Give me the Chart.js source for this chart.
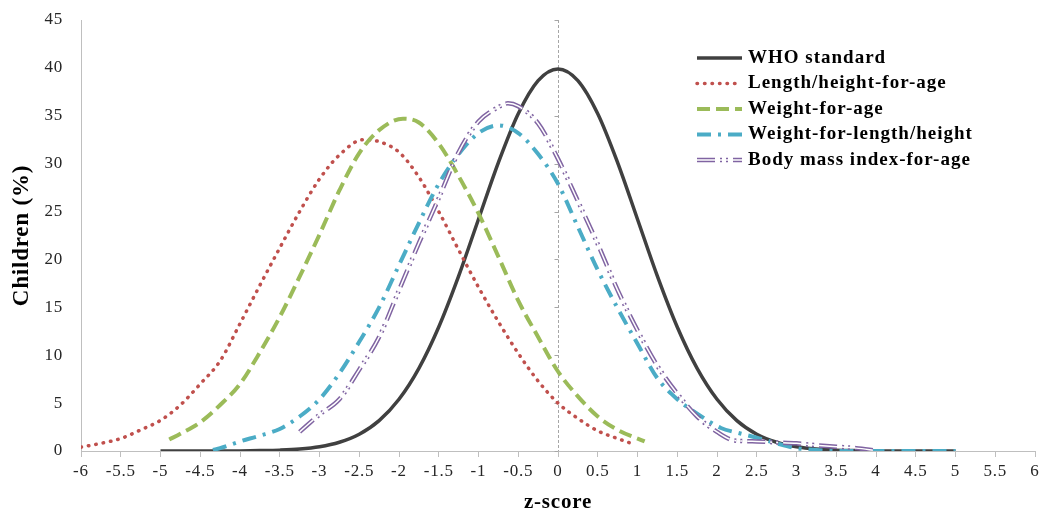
<!DOCTYPE html>
<html>
<head>
<meta charset="utf-8">
<script src="https://cdn.jsdelivr.net/npm/chart.js@4.4.1/dist/chart.umd.min.js"></script>
<style>
  body { margin: 0; background: #fff; }
  #chart1 { display: block; }
</style>
</head>
<body>
<canvas id="chart1" width="1042" height="513"></canvas>
<script>
// values (z-score -> % of children)
const whoZ = [-5, -4.75, -4.5, -4.25, -4, -3.75, -3.5, -3.25, -3, -2.75, -2.5, -2.25, -2, -1.75, -1.5, -1.25, -1, -0.75, -0.5, -0.25,
  0, 0.25, 0.5, 0.75, 1, 1.25, 1.5, 1.75, 2, 2.25, 2.5, 2.75, 3, 3.25, 3.5, 3.75, 4, 4.25, 4.5, 4.75, 5];
const whoY = [0, 0, 0, 0, 0.01, 0.04, 0.09, 0.2, 0.44, 0.91, 1.75, 3.17, 5.4, 8.63, 12.95, 18.26, 24.2, 30.11, 35.21, 38.67,
  39.89, 38.67, 35.21, 30.11, 24.2, 18.26, 12.95, 8.63, 5.4, 3.17, 1.75, 0.91, 0.44, 0.2, 0.09, 0.04, 0.01, 0, 0, 0, 0];

const lhaZ = [-6, -5.75, -5.5, -5.25, -5, -4.75, -4.5, -4.25, -4, -3.75, -3.5, -3.25, -3, -2.75, -2.45, -2.25, -2, -1.75, -1.5, -1.25,
  -1, -0.75, -0.5, -0.25, 0, 0.25, 0.5, 0.75, 0.92];
const lhaY = [0.4, 0.8, 1.3, 2.2, 3.2, 4.8, 7.0, 9.4, 13.3, 17.3, 21.2, 25.0, 28.4, 30.9, 32.5, 32.3, 31.2, 28.6, 25.0, 21.0,
  17.1, 13.5, 10.2, 7.3, 5.0, 3.4, 2.1, 1.3, 0.8];

const wfaZ = [-4.89, -4.75, -4.5, -4.25, -4, -3.75, -3.5, -3.25, -3, -2.75, -2.5, -2.25, -1.95, -1.75, -1.5, -1.25, -1, -0.75, -0.5,
  -0.25, 0, 0.25, 0.5, 0.75, 1.09];
const wfaY = [1.2, 1.8, 3.0, 4.8, 7.0, 10.3, 14.0, 18.2, 22.6, 27.2, 31.1, 33.5, 34.7, 34.3, 32.1, 28.7, 24.8, 20.3, 15.7,
  11.9, 8.3, 5.7, 3.6, 2.2, 1.0];

const wflZ = [-4.34, -4.25, -4, -3.75, -3.5, -3.25, -3, -2.75, -2.5, -2.25, -2, -1.75, -1.5, -1.25, -1, -0.75, -0.5, -0.25, 0,
  0.25, 0.5, 0.75, 1, 1.25, 1.5, 1.75, 2.05, 2.26, 2.5, 2.75, 3, 3.25, 3.5, 4, 4.5, 5];
const wflY = [0.1, 0.3, 1.0, 1.6, 2.3, 3.6, 5.4, 8.1, 11.4, 15.0, 19.4, 23.8, 27.9, 31.0, 33.2, 34.0, 33.2, 31.0, 27.9,
  23.4, 18.9, 14.9, 11.2, 7.6, 5.4, 3.9, 2.4, 1.9, 1.4, 0.8, 0.3, 0.1, 0, 0, 0, 0];

const bmiZ = [-3.25, -3, -2.75, -2.5, -2.25, -2, -1.75, -1.5, -1.25, -1, -0.75, -0.63, -0.5, -0.25, 0, 0.25, 0.5, 0.75, 1,
  1.25, 1.5, 1.75, 2, 2.22, 2.5, 2.75, 3, 3.25, 3.5, 3.75, 4];
const bmiY = [2.0, 3.8, 5.4, 8.5, 11.9, 16.8, 21.7, 26.4, 31.2, 34.4, 35.9, 36.3, 36.0, 34.2, 30.5, 26.1, 21.6, 16.8, 12.6,
  8.9, 6.0, 3.6, 2.0, 1.1, 1.0, 0.9, 0.8, 0.6, 0.45, 0.3, 0.05];

const xTicks = [-6, -5.5, -5, -4.5, -4, -3.5, -3, -2.5, -2, -1.5, -1, -0.5, 0, 0.5, 1, 1.5, 2, 2.5, 3, 3.5, 4, 4.5, 5, 5.5, 6];
const yTicks = [0, 5, 10, 15, 20, 25, 30, 35, 40, 45];
const seriesNames = ['WHO standard', 'Length/height-for-age', 'Weight-for-age', 'Weight-for-length/height', 'Body mass index-for-age'];

const pts = (xs, ys) => xs.map((x, i) => ({ x: x, y: ys[i] }));

const serif = "'Liberation Serif', 'Times New Roman', serif";
const axisGrey = '#bfbfbf';

const line = (label, data, color, width, dash, order, cap) => ({
  label: label,
  data: data,
  borderColor: color,
  backgroundColor: color,
  borderWidth: width,
  borderDash: dash,
  borderCapStyle: cap || 'butt',
  pointRadius: 0,
  fill: false,
  cubicInterpolationMode: 'monotone',
  order: order
});

const graphData = {
  datasets: [
    line(seriesNames[0], pts(whoZ, whoY), '#404040', 3.5, [], 6),
    line(seriesNames[1], pts(lhaZ, lhaY), '#c0504d', 3.5, [0.5, 7], 5, 'round'),
    line(seriesNames[2], pts(wfaZ, wfaY), '#9bbb59', 4, [13, 6], 4),
    line(seriesNames[3], pts(wflZ, wflY), '#4bacc6', 4, [14, 7, 3, 7], 3),
    line(seriesNames[4], pts(bmiZ, bmiY), '#8064a2', 4.5, [18, 5, 2, 4, 2, 5], 2),
    line('', pts(bmiZ, bmiY), '#ffffff', 1.5, [18, 5, 2, 4, 2, 5], 1)
  ]
};

// a bit of letter spacing like the original export
const spacing = {
  id: 'spacing',
  beforeDraw(chart) { chart.ctx.letterSpacing = '0.8px'; }
};

// dashed vertical line at z = 0 with small tick marks
const zeroLine = {
  id: 'zeroLine',
  beforeDatasetsDraw(chart) {
    const ctx = chart.ctx;
    const x = Math.round(chart.scales.x.getPixelForValue(0)) + 0.5;
    const area = chart.chartArea;
    ctx.save();
    ctx.strokeStyle = '#a6a6a6';
    ctx.lineWidth = 1;
    ctx.setLineDash([3, 2]);
    ctx.beginPath();
    ctx.moveTo(x, area.top);
    ctx.lineTo(x, area.bottom);
    ctx.stroke();
    ctx.setLineDash([]);
    yTicks.forEach(v => {
      const y = Math.round(chart.scales.y.getPixelForValue(v)) + 0.5;
      ctx.beginPath();
      ctx.moveTo(x - 4, y);
      ctx.lineTo(x, y);
      ctx.stroke();
    });
    ctx.restore();
  }
};

const legendBox = {
  id: 'legendBox',
  afterDraw(chart) {
    const ctx = chart.ctx;
    const ds = chart.data.datasets;
    ctx.save();
    ctx.font = 'bold 19px ' + serif;
    ctx.letterSpacing = '1px';
    ctx.fillStyle = '#000';
    ctx.textBaseline = 'middle';
    for (let i = 0; i < 5; i++) {
      const y = 58 + i * 25.5;
      const d = ds[i];
      ctx.strokeStyle = d.borderColor;
      ctx.lineWidth = d.borderWidth;
      ctx.lineCap = d.borderCapStyle;
      ctx.setLineDash(d.borderDash);
      ctx.beginPath();
      ctx.moveTo(697, y);
      ctx.lineTo(742, y);
      ctx.stroke();
      if (i == 4) {
        ctx.strokeStyle = '#fff';
        ctx.lineWidth = 1.5;
        ctx.beginPath();
        ctx.moveTo(697, y);
        ctx.lineTo(742, y);
        ctx.stroke();
      }
      ctx.setLineDash([]);
      ctx.fillText(d.label, 748, y);
    }
    ctx.restore();
  }
};

const options = {
  responsive: false,
  animation: false,
  layout: { padding: { top: 20, right: 7, left: 0, bottom: 0 } },
  plugins: { legend: { display: false }, tooltip: { enabled: false } },
  scales: {
    x: {
      type: 'linear',
      min: -6,
      max: 6,
      afterBuildTicks: s => { s.ticks = xTicks.map(v => ({ value: v })); },
      afterFit: s => { s.height = 62; s.paddingLeft = 0; s.paddingRight = 0; },
      ticks: { color: '#262626', font: { family: serif, size: 17 }, padding: 4, maxRotation: 0, autoSkip: false, callback: v => String(v) },
      grid: { drawOnChartArea: false, drawTicks: true, tickLength: 6, color: axisGrey },
      border: { color: axisGrey, width: 1 },
      title: { display: true, text: 'z-score', color: '#000', font: { family: serif, size: 21, weight: 'bold', lineHeight: 1 }, padding: { top: 0, bottom: 0 } }
    },
    y: {
      min: 0,
      max: 45,
      afterBuildTicks: s => { s.ticks = yTicks.map(v => ({ value: v })); },
      afterFit: s => { s.width = 81; s.paddingTop = 0; s.paddingBottom = 0; },
      ticks: { color: '#262626', font: { family: serif, size: 17 }, padding: 18, callback: v => String(v) },
      grid: { drawOnChartArea: false, drawTicks: false, color: axisGrey },
      border: { color: axisGrey, width: 1 },
      title: { display: true, text: 'Children (%)', color: '#000', font: { family: serif, size: 23, weight: 'bold', lineHeight: 1.2 }, padding: { top: 8, bottom: 0 } }
    }
  }
};

const ctx1 = document.getElementById('chart1');
const zChart = new Chart(ctx1, {
  type: 'line',
  data: graphData,
  options: options,
  plugins: [spacing, zeroLine, legendBox]
});
</script>
</body>
</html>
